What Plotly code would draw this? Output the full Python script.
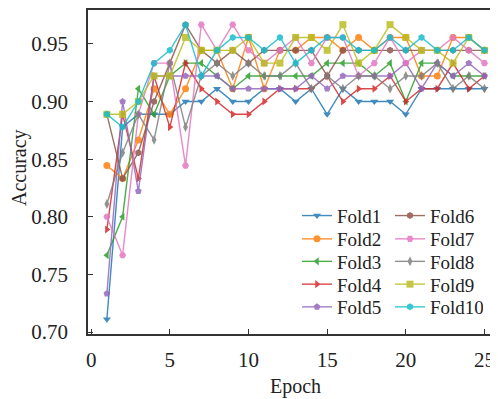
import plotly.graph_objects as go

epochs = list(range(1, 26))

fold1 = [0.7111, 0.8778, 0.8889, 0.8889, 0.8889, 0.9000, 0.9000, 0.9111, 0.9000, 0.9000, 0.9111, 0.9111, 0.9000,
         0.9111, 0.8889, 0.9111, 0.9000, 0.9000, 0.9000, 0.8889, 0.9111, 0.9111, 0.9111, 0.9111, 0.9111]
fold2 = [0.8444, 0.8333, 0.8667, 0.9111, 0.8889, 0.9111, 0.9444, 0.9444, 0.9111, 0.9556, 0.9111, 0.9444, 0.9444,
         0.9556, 0.9556, 0.9444, 0.9556, 0.9444, 0.9556, 0.9556, 0.9222, 0.9222, 0.9556, 0.9556, 0.9444]
fold3 = [0.7667, 0.8000, 0.9111, 0.8889, 0.9222, 0.9333, 0.9333, 0.9222, 0.9111, 0.9222, 0.9222, 0.9222, 0.9222,
         0.9222, 0.9333, 0.9333, 0.9333, 0.9222, 0.9333, 0.9000, 0.9333, 0.9333, 0.9222, 0.9222, 0.9222]
fold4 = [0.7889, 0.8889, 0.8333, 0.9222, 0.8778, 0.9333, 0.9111, 0.9000, 0.8889, 0.8889, 0.9000, 0.9111, 0.9111,
         0.9111, 0.9222, 0.9000, 0.9111, 0.9111, 0.9222, 0.9000, 0.9111, 0.9111, 0.9333, 0.9111, 0.9222]
fold5 = [0.7333, 0.9000, 0.8222, 0.9222, 0.9222, 0.9222, 0.9222, 0.9222, 0.9111, 0.9111, 0.9111, 0.9111, 0.9111,
         0.9222, 0.9111, 0.9222, 0.9222, 0.9222, 0.9222, 0.9333, 0.9111, 0.9333, 0.9222, 0.9333, 0.9222]
fold6 = [0.8889, 0.8333, 0.8556, 0.9000, 0.9333, 0.9667, 0.9444, 0.9333, 0.9444, 0.9333, 0.9444, 0.9444, 0.9444,
         0.9444, 0.9222, 0.9444, 0.9444, 0.9444, 0.9444, 0.9444, 0.9444, 0.9444, 0.9444, 0.9444, 0.9444]
fold7 = [0.8000, 0.7667, 0.8889, 0.9333, 0.9333, 0.8444, 0.9667, 0.9444, 0.9667, 0.9444, 0.9333, 0.9444, 0.9556,
         0.9333, 0.9556, 0.9556, 0.9222, 0.9333, 0.9556, 0.9333, 0.9444, 0.9444, 0.9556, 0.9444, 0.9333]
fold8 = [0.8111, 0.8556, 0.8889, 0.8667, 0.9333, 0.8778, 0.9222, 0.9333, 0.9222, 0.9333, 0.9222, 0.9222, 0.9333,
         0.9111, 0.9222, 0.9111, 0.9222, 0.9222, 0.9111, 0.9222, 0.9222, 0.9333, 0.9111, 0.9222, 0.9111]
fold9 = [0.8889, 0.8889, 0.9000, 0.9222, 0.9222, 0.9556, 0.9444, 0.9444, 0.9444, 0.9556, 0.9333, 0.9333, 0.9556,
         0.9556, 0.9444, 0.9667, 0.9333, 0.9444, 0.9667, 0.9556, 0.9444, 0.9444, 0.9333, 0.9556, 0.9444]
fold10 = [0.8889, 0.8778, 0.9000, 0.9333, 0.9444, 0.9667, 0.9222, 0.9444, 0.9556, 0.9556, 0.9444, 0.9556, 0.9333,
          0.9444, 0.9556, 0.9556, 0.9444, 0.9444, 0.9556, 0.9444, 0.9556, 0.9444, 0.9444, 0.9556, 0.9444]

names = ["Fold1", "Fold2", "Fold3", "Fold4", "Fold5", "Fold6", "Fold7", "Fold8", "Fold9", "Fold10"]
series = [fold1, fold2, fold3, fold4, fold5, fold6, fold7, fold8, fold9, fold10]
colors = ["#1f77b4", "#ff7f0e", "#2ca02c", "#d62728", "#9467bd",
          "#8c564b", "#e377c2", "#7f7f7f", "#bcbd22", "#17becf"]
symbols = ["triangle-down", "circle", "triangle-left", "triangle-right", "pentagon",
           "hexagon", "hexagon2", "diamond-tall", "square", "hexagon"]

x_ticks = [0, 5, 10, 15, 20, 25]
y_ticks = [0.70, 0.75, 0.80, 0.85, 0.90, 0.95]

FONT = "Liberation Serif"
TXT = "#222222"

# the page body adds an 8px offset; work in window pixels and subtract it
OFF = 8
W, H = 498 - OFF, 399 - OFF
L, R, T, B = 88 - OFF, 0, 10 - OFF, 399 - 334
PW, PH = W - L - R, H - T - B

def px_x(p):
    return (p - OFF - L) / PW

def px_y(p):
    return (H - B - (p - OFF)) / PH

legend_ids = ["legend", "legend2", "legend3", "legend4", "legend5"]

fig = go.Figure()
for i, (nm, ys) in enumerate(zip(names, series)):
    fig.add_trace(go.Scatter(
        x=epochs, y=ys, name=nm, mode="lines+markers",
        line=dict(color=colors[i], width=1.4),
        marker=dict(symbol=symbols[i], size=7, color=colors[i]),
        opacity=0.85,
        legend=legend_ids[i % 5],
    ))

axis_common = dict(
    showline=True, linecolor="#333333", linewidth=1.5,
    ticks="inside", ticklen=5, tickwidth=1.2, tickcolor="#333333",
    showgrid=False, zeroline=False, automargin=False,
    tickfont=dict(family=FONT, size=21, color=TXT),
)

layout = dict(
    width=W, height=H,
    margin=dict(l=L, r=R, t=T, b=B),
    paper_bgcolor="white", plot_bgcolor="white",
    font=dict(family=FONT, size=20, color=TXT),
    showlegend=True,
    xaxis=dict(range=[-0.2, 25.86], tickvals=x_ticks, mirror=True,
               ticklabelstandoff=6, **axis_common),
    yaxis=dict(range=[0.6983, 0.9794], tickvals=y_ticks, tickformat=".2f",
               ticklabelstandoff=14, **axis_common),
)

row_centers = [215.7, 239.0, 261.5, 284.3, 307.0]
for k, lid in enumerate(legend_ids):
    layout[lid] = dict(
        orientation="h", x=px_x(297), y=px_y(row_centers[k]),
        xanchor="left", yanchor="middle",
        bgcolor="rgba(0,0,0,0)", font=dict(family=FONT, size=19, color=TXT),
        entrywidth=48, entrywidthmode="pixels", itemwidth=30,
    )

fig.update_layout(**layout)

fig.add_annotation(text="Epoch", x=px_x(295), y=px_y(386), xref="paper", yref="paper",
                   xanchor="center", yanchor="middle", showarrow=False,
                   font=dict(family=FONT, size=20, color=TXT))
fig.add_annotation(text="Accuracy", x=px_x(20), y=px_y(168), xref="paper", yref="paper",
                   xanchor="center", yanchor="middle", showarrow=False, textangle=-90,
                   font=dict(family=FONT, size=20, color=TXT))

fig.write_html("out.html")
